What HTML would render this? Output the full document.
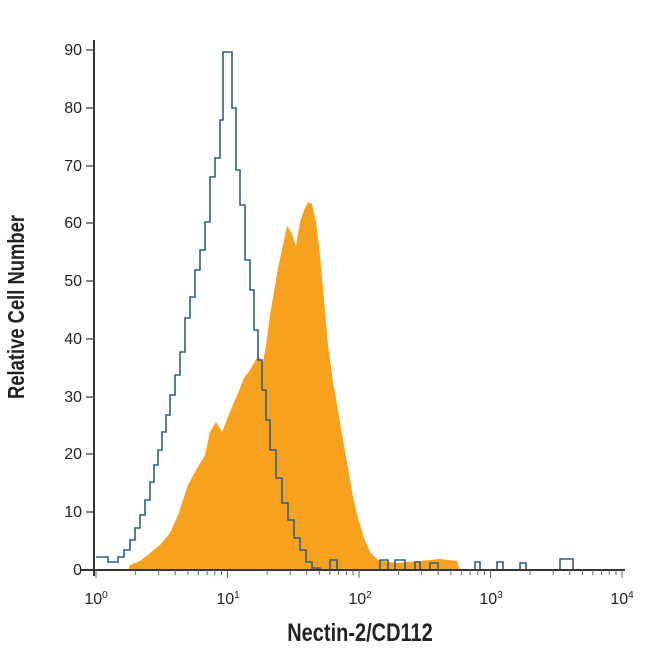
<!DOCTYPE html><html><head><style>body{margin:0;background:#fff}svg text{font-family:"Liberation Sans Narrow","Liberation Sans",sans-serif}</style></head><body>
<svg width="650" height="650" viewBox="0 0 650 650">
<polygon fill="#f7a11f" points="128,570 130,565 140,561 150,553 160,545 170,533 178,515 183,500 188,485 195,472 205,455 210,432 216,422 222,432 230,412 238,393 244,378 250,370 258,356 263,362 266,345 270,315 274,292 278,268 283,245 287,226 291,232 296,246 300,222 304,210 308,202 312,204 316,222 320,255 324,300 328,345 333,382 338,410 343,440 348,468 353,497 358,518 364,538 370,552 378,560 395,563 420,561 440,559 457,561 460,570"/>
<polyline fill="none" stroke="#2f5f7f" stroke-width="1.6" points="96,557 108,557 108,562 118,562 118,557 124,557 124,550 130,550 130,540 135,540 135,528 140,528 140,515 145,515 145,500 150,500 150,482 154,482 154,465 158,465 158,450 162,450 162,432 166,432 166,415 170,415 170,395 175,395 175,375 180,375 180,352 185,352 185,318 190,318 190,297 195,297 195,270 200,270 200,250 205,250 205,222 210,222 210,177 215,177 215,158 220,158 220,120 223,120 223,52 232,52 232,108 236,108 236,170 240,170 240,205 245,205 245,260 250,260 250,290 254,290 254,330 258,330 258,360 262,360 262,390 266,390 266,420 270,420 270,450 276,450 276,478 282,478 282,503 288,503 288,520 294,520 294,538 300,538 300,550 306,550 306,562 312,562 312,568 320,568 320,570 330,570 330,560 337,560 337,570 380,570 380,560 388,560 388,570 395,570 395,560 405,560 405,570 415,570 415,562 420,562 420,570 430,570 430,563 438,563 438,570 475,570 475,562 480,562 480,570 497,570 497,562 503,562 503,570 520,570 520,563 526,563 526,570 560,570 560,559 573,559 573,570 620,570"/>
<g stroke="#333" stroke-width="2"><line x1="80" y1="570" x2="625" y2="570"/><line x1="94" y1="40" x2="94" y2="576"/></g>
<g stroke="#333" stroke-width="1.2">
<line x1="86" y1="50" x2="94" y2="50"/><line x1="86" y1="108" x2="94" y2="108"/><line x1="86" y1="166" x2="94" y2="166"/><line x1="86" y1="223" x2="94" y2="223"/><line x1="86" y1="281" x2="94" y2="281"/><line x1="86" y1="339" x2="94" y2="339"/><line x1="86" y1="397" x2="94" y2="397"/><line x1="86" y1="454" x2="94" y2="454"/><line x1="86" y1="512" x2="94" y2="512"/>
</g>
<path stroke="#666" stroke-width="1" fill="none" d="M96,570v8M135.6,570v5M158.7,570v5M175.2,570v5M187.9,570v5M198.3,570v5M207.1,570v5M214.8,570v5M221.5,570v5M227.5,570v8M267.1,570v5M290.2,570v5M306.7,570v5M319.4,570v5M329.8,570v5M338.6,570v5M346.3,570v5M353,570v5M359,570v8M398.6,570v5M421.7,570v5M438.2,570v5M450.9,570v5M461.3,570v5M470.1,570v5M477.8,570v5M484.5,570v5M490.5,570v8M530.1,570v5M553.2,570v5M569.7,570v5M582.4,570v5M592.8,570v5M601.6,570v5M609.3,570v5M616,570v5M622,570v8"/>
<g font-size="16" fill="#222" text-anchor="end">
<text x="82" y="55">90</text><text x="82" y="113">80</text><text x="82" y="171">70</text><text x="82" y="228">60</text><text x="82" y="286">50</text><text x="82" y="344">40</text><text x="82" y="402">30</text><text x="82" y="459">20</text><text x="82" y="517">10</text><text x="82" y="575">0</text>
</g>
<g font-size="16" fill="#222" text-anchor="middle">
<text x="96" y="604">10<tspan font-size="10" dy="-6">0</tspan></text>
<text x="228" y="604">10<tspan font-size="10" dy="-6">1</tspan></text>
<text x="360" y="604">10<tspan font-size="10" dy="-6">2</tspan></text>
<text x="491" y="604">10<tspan font-size="10" dy="-6">3</tspan></text>
<text x="622" y="604">10<tspan font-size="10" dy="-6">4</tspan></text>
</g>
<text transform="translate(360,641) scale(0.8,1)" font-size="25" font-weight="bold" text-anchor="middle" fill="#222">Nectin-2/CD112</text>
<text transform="translate(24,307) rotate(-90) scale(0.8,1)" font-size="23" font-weight="bold" text-anchor="middle" fill="#222">Relative Cell Number</text>
</svg></body></html>
